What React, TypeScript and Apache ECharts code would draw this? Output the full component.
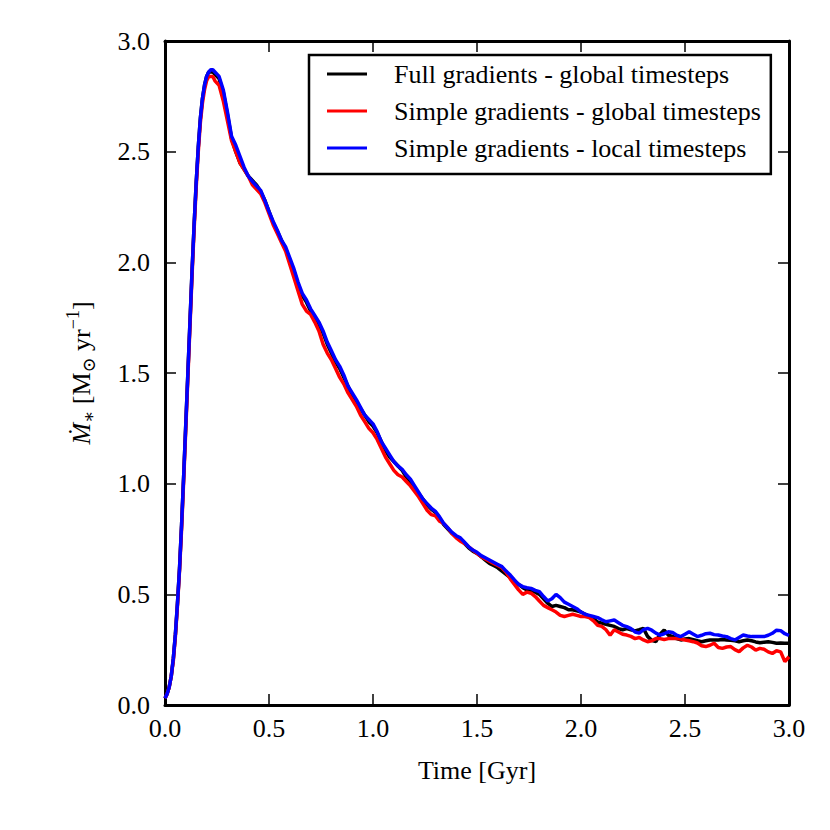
import React, { useEffect, useRef } from "react";
import * as echarts from "echarts";

const timeGyr = [
  0.0, 0.01, 0.02, 0.03, 0.04, 0.05, 0.06, 0.07, 0.08, 0.09,
  0.1, 0.11, 0.12, 0.13, 0.14, 0.15, 0.16, 0.17, 0.18, 0.19,
  0.2, 0.21, 0.22, 0.23, 0.24,
  0.26, 0.28, 0.3, 0.32, 0.34, 0.36, 0.38, 0.4, 0.42, 0.44,
  0.46, 0.48, 0.5, 0.52, 0.54, 0.56, 0.58, 0.6, 0.62, 0.64,
  0.66, 0.68, 0.7, 0.72, 0.74, 0.76, 0.78, 0.8, 0.82, 0.84,
  0.86, 0.88, 0.9, 0.92, 0.94, 0.96, 0.98, 1.0, 1.02, 1.04,
  1.06, 1.08, 1.1, 1.12, 1.14, 1.16, 1.18, 1.2, 1.22, 1.24,
  1.26, 1.28, 1.3, 1.32, 1.34, 1.36, 1.38, 1.4, 1.42, 1.44,
  1.46, 1.48, 1.5, 1.52, 1.54, 1.56, 1.58, 1.6, 1.62, 1.64,
  1.66, 1.68, 1.7, 1.72, 1.74, 1.76, 1.78, 1.8, 1.82, 1.84,
  1.86, 1.88, 1.9, 1.92, 1.94, 1.96, 1.98, 2.0, 2.02, 2.04,
  2.06, 2.08, 2.1, 2.12, 2.14, 2.16, 2.18, 2.2, 2.22, 2.24,
  2.26, 2.28, 2.3, 2.32, 2.34, 2.36, 2.38, 2.4, 2.42, 2.44,
  2.46, 2.48, 2.5, 2.52, 2.54, 2.56, 2.58, 2.6, 2.62, 2.64,
  2.66, 2.68, 2.7, 2.72, 2.74, 2.76, 2.78, 2.8, 2.82, 2.84,
  2.86, 2.88, 2.9, 2.92, 2.94, 2.96, 2.98, 3.0,
];

const fullGlobal = [
  0.03, 0.05, 0.08, 0.13, 0.21, 0.32, 0.46, 0.62, 0.82, 1.04,
  1.27, 1.5, 1.73, 1.96, 2.17, 2.36, 2.52, 2.65, 2.74, 2.8,
  2.84, 2.86, 2.86, 2.86, 2.85,
  2.83, 2.77, 2.67, 2.56, 2.5, 2.45, 2.42, 2.39, 2.37, 2.35,
  2.32, 2.28, 2.23, 2.18, 2.14, 2.1, 2.06, 2.01, 1.96, 1.9,
  1.85, 1.82, 1.78, 1.75, 1.72, 1.68, 1.63, 1.59, 1.55, 1.52,
  1.48, 1.44, 1.4, 1.37, 1.34, 1.31, 1.28, 1.26, 1.23, 1.19,
  1.15, 1.12, 1.1, 1.08, 1.06, 1.03, 1.01, 0.98, 0.955, 0.93,
  0.905, 0.885, 0.87, 0.845, 0.815, 0.795, 0.775, 0.76, 0.75, 0.73,
  0.71, 0.695, 0.685, 0.67, 0.655, 0.64, 0.63, 0.62, 0.605, 0.59,
  0.575, 0.56, 0.545, 0.53, 0.52, 0.515, 0.51, 0.5, 0.48, 0.46,
  0.445, 0.45, 0.445, 0.44, 0.43, 0.43, 0.425, 0.42, 0.41, 0.4,
  0.39, 0.375, 0.37, 0.365, 0.36, 0.355, 0.345, 0.34, 0.345, 0.34,
  0.335, 0.34, 0.346, 0.31, 0.292, 0.286, 0.32, 0.339, 0.315, 0.31,
  0.3, 0.294, 0.298, 0.3, 0.295, 0.29, 0.286, 0.29, 0.294, 0.294,
  0.294, 0.296, 0.294, 0.292, 0.29, 0.286, 0.29, 0.294, 0.29, 0.285,
  0.281, 0.284, 0.286, 0.283, 0.279, 0.28, 0.279, 0.279,
];

const simpleGlobal = [
  0.03, 0.05, 0.08, 0.13, 0.2, 0.31, 0.45, 0.61, 0.8, 1.02,
  1.25, 1.48, 1.71, 1.94, 2.15, 2.34, 2.5, 2.63, 2.72, 2.78,
  2.82, 2.84, 2.84, 2.84, 2.82,
  2.8, 2.73, 2.64, 2.55, 2.5, 2.45, 2.42, 2.39, 2.35, 2.33,
  2.31, 2.27, 2.22, 2.17, 2.13, 2.09, 2.05, 1.99, 1.93, 1.87,
  1.81, 1.78, 1.765, 1.73, 1.69, 1.63, 1.59, 1.56, 1.52, 1.48,
  1.45, 1.41, 1.38, 1.35, 1.31, 1.28, 1.25, 1.23, 1.2, 1.16,
  1.12, 1.09, 1.06, 1.04, 1.03, 1.01, 0.99, 0.965, 0.94, 0.91,
  0.88, 0.86, 0.855, 0.83, 0.82, 0.8, 0.775, 0.755, 0.74, 0.73,
  0.715, 0.7, 0.685, 0.67, 0.66, 0.65, 0.64, 0.63, 0.62, 0.6,
  0.57, 0.545, 0.52, 0.5, 0.51, 0.505, 0.49, 0.47, 0.45, 0.44,
  0.43, 0.42, 0.405, 0.4, 0.405, 0.41, 0.405, 0.4, 0.4, 0.395,
  0.38, 0.36, 0.355, 0.34, 0.315, 0.34, 0.33, 0.32, 0.316, 0.31,
  0.3, 0.305, 0.294, 0.286, 0.29, 0.3, 0.3, 0.296, 0.3, 0.3,
  0.3, 0.298, 0.294, 0.29, 0.286, 0.28, 0.268, 0.264, 0.27, 0.279,
  0.26, 0.256, 0.262, 0.264, 0.25, 0.241, 0.258, 0.27, 0.262, 0.248,
  0.256, 0.252, 0.24, 0.233, 0.245, 0.24, 0.196, 0.218,
];

const simpleLocal = [
  0.03, 0.05, 0.08, 0.13, 0.21, 0.32, 0.46, 0.62, 0.82, 1.04,
  1.27, 1.5, 1.73, 1.96, 2.17, 2.36, 2.52, 2.65, 2.74, 2.8,
  2.84, 2.86, 2.87, 2.87, 2.86,
  2.84, 2.78, 2.68, 2.57, 2.53, 2.48, 2.43, 2.39, 2.365, 2.345,
  2.325, 2.28, 2.23, 2.185, 2.145, 2.1, 2.07, 2.02, 1.97, 1.91,
  1.86, 1.83, 1.79, 1.76, 1.73, 1.69, 1.64, 1.6, 1.56, 1.53,
  1.49, 1.44, 1.41, 1.38, 1.345, 1.31, 1.29, 1.27, 1.235, 1.19,
  1.16, 1.13, 1.1, 1.08, 1.065, 1.04, 1.02, 0.99, 0.96, 0.93,
  0.91, 0.89, 0.875, 0.85, 0.82, 0.8, 0.78, 0.765, 0.755, 0.735,
  0.715, 0.7, 0.69, 0.675, 0.665, 0.655, 0.645, 0.635, 0.625, 0.605,
  0.587, 0.565, 0.545, 0.535, 0.53, 0.527, 0.518, 0.512, 0.49, 0.47,
  0.48, 0.5, 0.485, 0.465, 0.455, 0.445, 0.435, 0.42, 0.41, 0.405,
  0.4, 0.395, 0.385, 0.376, 0.38, 0.384, 0.372, 0.36, 0.354, 0.345,
  0.33, 0.325, 0.34, 0.346, 0.338, 0.325, 0.316, 0.322, 0.331, 0.328,
  0.315, 0.309, 0.32, 0.331, 0.32, 0.309, 0.315, 0.322, 0.324, 0.318,
  0.316, 0.312, 0.309, 0.3, 0.294, 0.305, 0.316, 0.312, 0.309, 0.309,
  0.309, 0.309, 0.315, 0.324, 0.338, 0.336, 0.322, 0.314,
];

const seriesNames = [
  "Full gradients - global timesteps",
  "Simple gradients - global timesteps",
  "Simple gradients - local timesteps",
];
const seriesColors = ["#000000", "#ff0000", "#0000ff"];
const seriesValues = [fullGlobal, simpleGlobal, simpleLocal];

const FONT = "'Liberation Serif', 'Times New Roman', 'DejaVu Serif', serif";

export default function App() {
  const ref = useRef<HTMLDivElement>(null);

  useEffect(() => {
    if (!ref.current) return;
    const chart = echarts.init(ref.current, undefined, { renderer: "svg" });

    const baseAxis = {
      type: "value" as const,
      min: 0,
      max: 3,
      interval: 0.5,
      splitLine: { show: false },
      axisLine: { show: true, onZero: false, lineStyle: { color: "#000", width: 3 } },
      axisTick: { show: true, inside: true, length: 11, lineStyle: { color: "#000", width: 1.5 } },
      minorTick: { show: false },
    };

    const tickLabel = {
      fontFamily: FONT,
      fontSize: 26,
      color: "#000",
      formatter: (v: number) => v.toFixed(1),
    };

    chart.setOption({
      animation: false,
      backgroundColor: "#ffffff",
      grid: { left: 165, top: 41, width: 624, height: 664, containLabel: false },
      legend: {
        show: true,
        orient: "vertical",
        left: 309,
        top: 55,
        data: seriesNames,
        icon: "rect",
        itemWidth: 40,
        itemHeight: 3,
        itemGap: 11,
        padding: [6, 10, 13, 18],
        borderColor: "#000",
        borderWidth: 2.5,
        backgroundColor: "#fff",
        textStyle: {
          fontFamily: FONT,
          fontSize: 26,
          lineHeight: 26,
          color: "#000",
          padding: [0, 0, 0, 22],
        },
      },
      xAxis: [
        {
          ...baseAxis,
          position: "bottom",
          axisLabel: { ...tickLabel, margin: 10 },
          name: "Time [Gyr]",
          nameLocation: "middle",
          nameGap: 52,
          nameTextStyle: { fontFamily: FONT, fontSize: 26, color: "#000" },
        },
        {
          ...baseAxis,
          position: "top",
          axisLabel: { show: false },
        },
      ],
      yAxis: [
        {
          ...baseAxis,
          position: "left",
          axisLabel: { ...tickLabel, margin: 15 },
          name: "{it|Ṁ}{sub|∗} {n|[M}{sub|⊙}{n| yr}{sup|−1}{n|]}",
          nameLocation: "middle",
          nameRotate: 90,
          nameGap: 67,
          nameTextStyle: {
            fontFamily: FONT,
            fontSize: 26,
            color: "#000",
            rich: {
              it: { fontFamily: FONT, fontSize: 26, fontStyle: "italic", color: "#000", lineHeight: 34, verticalAlign: "middle" },
              n: { fontFamily: FONT, fontSize: 26, color: "#000", lineHeight: 34, verticalAlign: "middle" },
              sub: { fontFamily: FONT, fontSize: 18, color: "#000", lineHeight: 18, verticalAlign: "bottom" },
              sup: { fontFamily: FONT, fontSize: 18, color: "#000", lineHeight: 18, verticalAlign: "top" },
            },
          },
        },
        {
          ...baseAxis,
          position: "right",
          axisLabel: { show: false },
        },
      ],
      series: seriesNames.map((name, i) => ({
        name,
        type: "line",
        xAxisIndex: 0,
        yAxisIndex: 0,
        showSymbol: false,
        symbol: "none",
        clip: true,
        color: seriesColors[i],
        lineStyle: { color: seriesColors[i], width: 3.5 },
        data: timeGyr.map((t, k) => [t, seriesValues[i][k]]),
        z: 2 + i,
      })),
    });

    return () => chart.dispose();
  }, []);

  return (
    <div
      ref={ref}
      style={{ position: "fixed", left: 0, top: 0, width: 830, height: 830, background: "#fff" }}
    />
  );
}
